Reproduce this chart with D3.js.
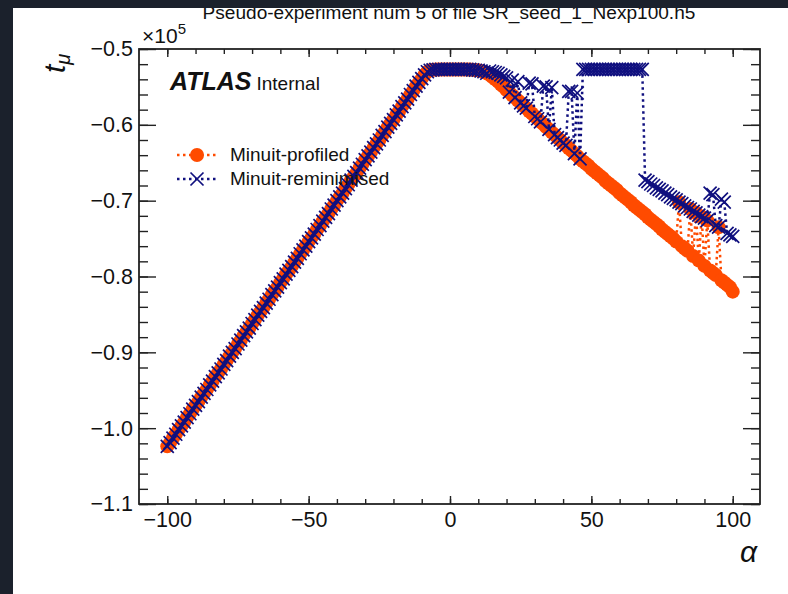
<!DOCTYPE html>
<html>
<head>
<meta charset="utf-8">
<script src="https://cdn.jsdelivr.net/npm/d3@7"></script>
<style>
body{margin:0;background:#1b212c}
svg{display:block}
text{font-family:"Liberation Sans",Arial,Helvetica,sans-serif}
</style>
</head>
<body>
<svg></svg>
<script>
// alpha scan grid, one point per unit
var alpha = d3.range(-100, 101, 1);

// t_mu (x1e5) from the profiled fit
var profiled = [
-1.024,-1.019,-1.013,-1.008,-1.002,-0.997,-0.992,-0.986,-0.981,-0.975,
-0.970,-0.965,-0.959,-0.954,-0.949,-0.943,-0.938,-0.932,-0.927,-0.922,
-0.916,-0.911,-0.905,-0.900,-0.895,-0.889,-0.884,-0.878,-0.873,-0.868,
-0.862,-0.857,-0.851,-0.846,-0.841,-0.835,-0.830,-0.824,-0.819,-0.814,
-0.808,-0.803,-0.797,-0.792,-0.787,-0.781,-0.776,-0.770,-0.765,-0.760,
-0.754,-0.749,-0.744,-0.738,-0.733,-0.727,-0.722,-0.717,-0.711,-0.706,
-0.700,-0.695,-0.690,-0.684,-0.679,-0.673,-0.668,-0.663,-0.657,-0.652,
-0.646,-0.641,-0.636,-0.630,-0.625,-0.620,-0.614,-0.609,-0.603,-0.598,
-0.593,-0.587,-0.582,-0.576,-0.571,-0.566,-0.560,-0.555,-0.549,-0.544,
-0.539,-0.534,-0.530,-0.528,-0.5275,-0.527,-0.527,-0.527,-0.527,-0.527,
-0.527,-0.527,-0.527,-0.527,-0.527,-0.527,-0.527,-0.527,-0.5275,-0.528,
-0.528,-0.529,-0.530,-0.532,-0.534,-0.537,-0.540,-0.543,-0.547,-0.550,
-0.554,-0.557,-0.561,-0.564,-0.568,-0.571,-0.575,-0.578,-0.582,-0.585,
-0.589,-0.592,-0.596,-0.599,-0.603,-0.606,-0.610,-0.613,-0.617,-0.620,
-0.624,-0.627,-0.631,-0.634,-0.638,-0.641,-0.645,-0.648,-0.651,-0.654,
-0.658,-0.661,-0.664,-0.667,-0.670,-0.674,-0.677,-0.680,-0.683,-0.686,
-0.690,-0.693,-0.696,-0.699,-0.702,-0.706,-0.709,-0.712,-0.715,-0.718,
-0.722,-0.725,-0.728,-0.731,-0.734,-0.738,-0.741,-0.744,-0.747,-0.750,
-0.754,-0.702,-0.760,-0.763,-0.766,-0.711,-0.773,-0.716,-0.779,-0.721,
-0.786,-0.726,-0.792,-0.795,-0.798,-0.735,-0.805,-0.808,-0.811,-0.814,
-0.820
];

// t_mu (x1e5) after reminimisation
var reminimised = [
-1.024,-1.019,-1.013,-1.008,-1.002,-0.997,-0.992,-0.986,-0.981,-0.975,
-0.970,-0.965,-0.959,-0.954,-0.949,-0.943,-0.938,-0.932,-0.927,-0.922,
-0.916,-0.911,-0.905,-0.900,-0.895,-0.889,-0.884,-0.878,-0.873,-0.868,
-0.862,-0.857,-0.851,-0.846,-0.841,-0.835,-0.830,-0.824,-0.819,-0.814,
-0.808,-0.803,-0.797,-0.792,-0.787,-0.781,-0.776,-0.770,-0.765,-0.760,
-0.754,-0.749,-0.744,-0.738,-0.733,-0.727,-0.722,-0.717,-0.711,-0.706,
-0.700,-0.695,-0.690,-0.684,-0.679,-0.673,-0.668,-0.663,-0.657,-0.652,
-0.646,-0.641,-0.636,-0.630,-0.625,-0.620,-0.614,-0.609,-0.603,-0.598,
-0.593,-0.587,-0.582,-0.576,-0.571,-0.566,-0.560,-0.555,-0.549,-0.544,
-0.539,-0.534,-0.530,-0.528,-0.5275,-0.527,-0.527,-0.527,-0.527,-0.527,
-0.527,-0.527,-0.527,-0.527,-0.527,-0.527,-0.527,-0.527,-0.5275,-0.528,
-0.528,-0.529,-0.530,-0.532,-0.529,-0.530,-0.531,-0.532,-0.534,-0.536,
-0.538,-0.557,-0.541,-0.564,-0.543,-0.571,-0.575,-0.578,-0.545,-0.546,
-0.589,-0.592,-0.596,-0.549,-0.550,-0.606,-0.551,-0.613,-0.617,-0.620,
-0.624,-0.627,-0.556,-0.556,-0.638,-0.558,-0.645,-0.527,-0.527,-0.527,
-0.527,-0.527,-0.527,-0.527,-0.527,-0.527,-0.527,-0.527,-0.527,-0.527,
-0.527,-0.527,-0.527,-0.527,-0.527,-0.527,-0.527,-0.527,-0.527,-0.673,
-0.675,-0.678,-0.680,-0.683,-0.685,-0.687,-0.690,-0.692,-0.695,-0.697,
-0.699,-0.702,-0.704,-0.707,-0.709,-0.711,-0.714,-0.716,-0.719,-0.721,
-0.723,-0.726,-0.690,-0.692,-0.733,-0.735,-0.698,-0.702,-0.743,-0.745,
-0.747
];

var xMajor = [-100, -50, 0, 50, 100];
var xMinor = d3.range(-100, 101, 10);
var yMajor = [-1.1, -1.0, -0.9, -0.8, -0.7, -0.6, -0.5];
var yMinor = d3.range(-1.1, -0.499, 0.02);

var screen = {width: 788, height: 594};
var box = {left: 139, right: 760, top: 49, bottom: 504};

var orange = "#ff4b00";
var navy = "#10107f";

var svg = d3.select('svg')
  .attr('width', screen.width)
  .attr('height', screen.height);

svg.append('rect')
  .attr('x', 13).attr('y', 8)
  .attr('width', screen.width - 13).attr('height', screen.height - 8)
  .attr('fill', 'white');

var xScale = d3.scaleLinear().domain([-110, 110]).range([box.left, box.right + 1]);
var yScale = d3.scaleLinear().domain([-1.1, -0.5]).range([box.bottom, box.top]);

// title (cut by the dark band above)
var title = svg.append('text')
  .attr('x', 449).attr('y', 18.5)
  .attr('text-anchor', 'middle')
  .attr('font-size', 19)
  .attr('fill', '#111')
  .text('Pseudo-experiment num 5 of file SR_seed_1_Nexp100.h5');
var tl = title.node().getComputedTextLength();
title.attr('font-size', 19 * 493 / tl);

// axes: labels on left and bottom, ticks on all four sides pointing in
function styleAxis(g) {
  g.select('.domain').remove();
  g.selectAll('line').attr('stroke', '#222').attr('stroke-width', 1.4);
  g.selectAll('text').attr('fill', '#111').attr('font-size', 21.5)
    .attr('font-family', '"Liberation Sans",Arial,Helvetica,sans-serif');
}

svg.append('g').attr('transform', 'translate(' + box.left + ',0)')
  .call(d3.axisLeft(yScale).tickValues(yMajor).tickSize(-17).tickPadding(6).tickFormat(d3.format('.1f')))
  .call(styleAxis);
svg.append('g').attr('transform', 'translate(' + box.left + ',0)')
  .call(d3.axisLeft(yScale).tickValues(yMinor).tickSize(-9).tickFormat(''))
  .call(styleAxis);
svg.append('g').attr('transform', 'translate(' + box.right + ',0)')
  .call(d3.axisRight(yScale).tickValues(yMajor).tickSize(-17).tickFormat(''))
  .call(styleAxis);
svg.append('g').attr('transform', 'translate(' + box.right + ',0)')
  .call(d3.axisRight(yScale).tickValues(yMinor).tickSize(-9).tickFormat(''))
  .call(styleAxis);

svg.append('g').attr('transform', 'translate(0,' + box.bottom + ')')
  .call(d3.axisBottom(xScale).tickValues(xMajor).tickSize(-8).tickPadding(8).tickFormat(d3.format('d')))
  .call(styleAxis);
svg.append('g').attr('transform', 'translate(0,' + box.bottom + ')')
  .call(d3.axisBottom(xScale).tickValues(xMinor).tickSize(-5).tickFormat(''))
  .call(styleAxis);
svg.append('g').attr('transform', 'translate(0,' + box.top + ')')
  .call(d3.axisTop(xScale).tickValues(xMajor).tickSize(-8).tickFormat(''))
  .call(styleAxis);
svg.append('g').attr('transform', 'translate(0,' + box.top + ')')
  .call(d3.axisTop(xScale).tickValues(xMinor).tickSize(-5).tickFormat(''))
  .call(styleAxis);

svg.append('rect')
  .attr('x', box.left).attr('y', box.top)
  .attr('width', box.right - box.left).attr('height', box.bottom - box.top)
  .attr('fill', 'none').attr('stroke', '#222').attr('stroke-width', 1.8);

// series
var plot = svg.append('g');
var line = d3.line()
  .x(function(d){ return xScale(d[0]); })
  .y(function(d){ return yScale(d[1]); });

var profPts = alpha.map(function(a, i){ return [a, profiled[i]]; });
var remPts = alpha.map(function(a, i){ return [a, reminimised[i]]; });

var crossPath = 'M-6.5,-6.5L6.5,6.5M-6.5,6.5L6.5,-6.5';

plot.append('path').datum(profPts)
  .attr('d', line).attr('fill', 'none')
  .attr('stroke', orange).attr('stroke-width', 2.5).attr('stroke-dasharray', '2.5,3.5');
plot.selectAll('circle.prof').data(profPts).enter().append('circle')
  .attr('class', 'prof')
  .attr('cx', function(d){ return xScale(d[0]); })
  .attr('cy', function(d){ return yScale(d[1]); })
  .attr('r', 7).attr('fill', orange);

plot.append('path').datum(remPts)
  .attr('d', line).attr('fill', 'none')
  .attr('stroke', navy).attr('stroke-width', 2.5).attr('stroke-dasharray', '2.5,3.5');
plot.selectAll('path.rem').data(remPts).enter().append('path')
  .attr('class', 'rem')
  .attr('transform', function(d){ return 'translate(' + xScale(d[0]) + ',' + yScale(d[1]) + ')'; })
  .attr('d', crossPath).attr('fill', 'none')
  .attr('stroke', navy).attr('stroke-width', 1.7);

// legend
var legend = [
  {name: 'Minuit-profiled', color: orange, y: 155, marker: 'circle'},
  {name: 'Minuit-reminimised', color: navy, y: 179, marker: 'cross'}
];
legend.forEach(function(l){
  svg.append('line').attr('x1', 177).attr('x2', 216).attr('y1', l.y).attr('y2', l.y)
    .attr('stroke', l.color).attr('stroke-width', 2.5).attr('stroke-dasharray', '2.5,3.5');
  if (l.marker == 'circle') {
    svg.append('circle').attr('cx', 197).attr('cy', l.y).attr('r', 7).attr('fill', l.color);
  } else {
    svg.append('path').attr('transform', 'translate(197,' + l.y + ')')
      .attr('d', crossPath).attr('fill', 'none').attr('stroke', l.color).attr('stroke-width', 1.7);
  }
  svg.append('text').attr('x', 230).attr('y', l.y + 5.5)
    .attr('font-size', 19).attr('fill', '#111').text(l.name);
});

// ATLAS label
var atlas = svg.append('text').attr('x', 170).attr('y', 90).attr('fill', '#111');
atlas.append('tspan').attr('font-size', 25).attr('font-weight', 'bold').attr('font-style', 'italic').text('ATLAS');
atlas.append('tspan').attr('font-size', 19).attr('dx', 5).text('Internal');

// exponent
var expo = svg.append('text').attr('x', 142).attr('y', 43).attr('font-size', 21).attr('fill', '#111');
expo.append('tspan').text('×10');
expo.append('tspan').attr('font-size', 15).attr('dy', -9).text('5');

// axis titles
var ylab = svg.append('text')
  .attr('transform', 'translate(65,73) rotate(-90)')
  .attr('fill', '#111').attr('font-style', 'italic');
ylab.append('tspan').attr('font-size', 30).text('t');
ylab.append('tspan').attr('font-size', 20).attr('dy', 5).text('μ');

svg.append('text').attr('x', 757).attr('y', 562)
  .attr('text-anchor', 'end').attr('font-size', 30).attr('font-style', 'italic')
  .attr('fill', '#111').text('α');

// dark window edges
svg.append('rect').attr('x', 0).attr('y', 0).attr('width', screen.width).attr('height', 8).attr('fill', '#1b212c');
svg.append('rect').attr('x', 0).attr('y', 0).attr('width', 13).attr('height', screen.height).attr('fill', '#1b212c');
</script>
</body>
</html>
